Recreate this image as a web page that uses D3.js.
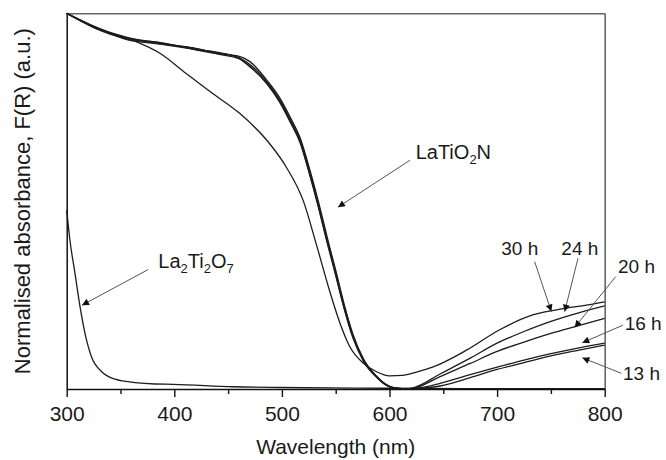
<!DOCTYPE html>
<html>
<head>
<meta charset="utf-8">
<script src="https://cdn.jsdelivr.net/npm/d3@7"></script>
<style>
  body { margin: 0; background: #fff; }
  text { font-family: "Liberation Sans", Arial, sans-serif; fill: #1a1a1a; }
</style>
</head>
<body>
<script>
// chart size
var width = 666,
    height = 460;

// data: [wavelength nm, normalised F(R)]
var la2ti2o7 = [[300,0.476],[303,0.396],[307.7,0.308],[312.4,0.219],[317,0.148],[323,0.086],[332.5,0.046],[345,0.026],[363.5,0.017],[382,0.0133],[399,0.0125],[455,0.006],[500,0.004],[600,0.002],[700,0.001],[800,0.001]];

var h30 = [[300,1],[330,0.958],[360,0.93],[387,0.893],[411,0.84],[436,0.786],[461,0.733],[486,0.662],[504,0.591],[520,0.5],[532,0.385],[545,0.255],[554,0.175],[563,0.113],[576,0.068],[588,0.046],[600,0.035],[612,0.036],[625,0.045],[640,0.058],[672,0.104],[702,0.157],[733,0.197],[764,0.215],[783,0.223],[800,0.232]];

var h24 = [[300,1],[325,0.965],[356,0.936],[387,0.921],[418,0.907],[442,0.894],[461,0.881],[472,0.86],[486,0.818],[498,0.77],[508,0.716],[517,0.663],[526,0.576],[534,0.49],[542,0.398],[550,0.31],[558,0.219],[566,0.142],[576,0.077],[588,0.033],[597,0.011],[605,0.002],[614,0],[622,0.003],[647,0.04],[675,0.082],[700,0.122],[725,0.153],[750,0.18],[775,0.202],[800,0.221]];

var h20 = [[300,1],[325,0.962],[356,0.932],[387,0.922],[418,0.904],[442,0.892],[461,0.885],[470,0.872],[486,0.822],[498,0.775],[508,0.722],[517,0.668],[526,0.583],[534,0.498],[542,0.405],[550,0.316],[558,0.224],[566,0.146],[576,0.079],[588,0.034],[597,0.012],[605,0.003],[616,0],[624,0.003],[647,0.033],[675,0.068],[700,0.1],[725,0.125],[750,0.148],[775,0.168],[800,0.188]];

var h16 = [[300,1],[325,0.966],[356,0.93],[387,0.918],[418,0.905],[442,0.895],[461,0.879],[472,0.855],[486,0.812],[498,0.763],[508,0.709],[517,0.655],[526,0.568],[534,0.483],[542,0.39],[550,0.302],[558,0.212],[566,0.136],[576,0.073],[588,0.031],[597,0.01],[605,0.002],[618,0],[626,0.002],[647,0.015],[675,0.038],[700,0.058],[725,0.077],[750,0.094],[775,0.109],[800,0.122]];

var h13 = [[300,1],[325,0.963],[356,0.934],[387,0.919],[418,0.908],[442,0.891],[461,0.878],[470,0.858],[486,0.815],[498,0.766],[508,0.712],[517,0.658],[526,0.571],[534,0.486],[542,0.394],[550,0.306],[558,0.215],[566,0.139],[576,0.075],[588,0.032],[597,0.01],[605,0.002],[620,0],[628,0.002],[647,0.008],[675,0.03],[700,0.052],[725,0.07],[750,0.088],[775,0.103],[800,0.117]];

var series = [la2ti2o7, h13, h16, h20, h24, h30];

var majorTicks = [300, 400, 500, 600, 700, 800];
var minorTicks = [350, 450, 550, 650, 750];

// annotation labels (text, text pos, arrow from, arrow to) in data units
var hourLabels = [
  {text: "30 h", at: [703.9, 0.356], from: [734.9, 0.339], to: [750.4, 0.206]},
  {text: "24 h", at: [759.7, 0.356], from: [775.2, 0.348], to: [762.8, 0.206]},
  {text: "20 h", at: [812.4, 0.308], from: [810.2, 0.299], to: [772.1, 0.164]},
  {text: "16 h", at: [818.6, 0.157], from: [817.0, 0.170], to: [779.2, 0.123]},
  {text: "13 h", at: [817.0, 0.024], from: [815.4, 0.042], to: [779.2, 0.083]}
];

var x = d3.scaleLinear().domain([300, 800]).range([66.7, 604.7]);
var y = d3.scaleLinear().domain([0, 1]).range([389, 13.3]);

var svg = d3.select("body")
    .append("svg")
    .attr("width", width)
    .attr("height", height);

// arrow head
svg.append("defs").append("marker")
    .attr("id", "head")
    .attr("viewBox", "0 0 10 10")
    .attr("refX", 10).attr("refY", 5)
    .attr("markerWidth", 10).attr("markerHeight", 7)
    .attr("markerUnits", "userSpaceOnUse")
    .attr("orient", "auto")
  .append("path")
    .attr("d", "M0,0 L10,5 L0,10 z")
    .attr("fill", "#111");

// frame top / right (grey)
svg.append("g")
    .attr("transform", "translate(0," + y(1) + ")")
    .call(d3.axisTop(x).tickValues([]).tickSizeOuter(0))
    .select(".domain").attr("stroke", "#666").attr("stroke-width", 1.6);
svg.append("g")
    .attr("transform", "translate(" + x(800) + ",0)")
    .call(d3.axisRight(y).tickValues([]).tickSizeOuter(0))
    .select(".domain").attr("stroke", "#666").attr("stroke-width", 1.6);

// curves
var line = d3.line()
    .x(function(d){ return x(d[0]); })
    .y(function(d){ return y(d[1]); })
    .curve(d3.curveMonotoneX);

svg.append("g").selectAll("path")
    .data(series)
    .enter()
    .append("path")
    .attr("d", line)
    .attr("fill", "none")
    .attr("stroke", "#1c1c1c")
    .attr("stroke-width", 1.3);

// left axis (no ticks)
svg.append("g")
    .attr("transform", "translate(" + x(300) + ",0)")
    .call(d3.axisLeft(y).tickValues([]).tickSizeOuter(0))
    .select(".domain").attr("stroke", "#111").attr("stroke-width", 1.5);

// bottom axis
var xAxis = svg.append("g")
    .attr("transform", "translate(0," + y(0) + ")")
    .call(d3.axisBottom(x).tickValues(majorTicks).tickSize(8).tickSizeOuter(0).tickPadding(9));
xAxis.select(".domain").attr("stroke", "#111").attr("stroke-width", 1.5);
xAxis.selectAll(".tick line").attr("stroke", "#111").attr("stroke-width", 1.4);
xAxis.selectAll(".tick text")
    .attr("font-size", 21)
    .attr("font-family", "Liberation Sans, Arial, sans-serif")
    .attr("fill", "#1a1a1a");

var minor = svg.append("g")
    .attr("transform", "translate(0," + y(0) + ")")
    .call(d3.axisBottom(x).tickValues(minorTicks).tickSize(5).tickFormat(""));
minor.select(".domain").remove();
minor.selectAll(".tick line").attr("stroke", "#111").attr("stroke-width", 1.4);

// axis titles
svg.append("text")
    .attr("x", x(550)).attr("y", 454)
    .attr("text-anchor", "middle")
    .attr("font-size", 21)
    .text("Wavelength (nm)");

svg.append("text")
    .attr("transform", "translate(30," + y(0.5) + ") rotate(-90)")
    .attr("text-anchor", "middle")
    .attr("font-size", 22)
    .text("Normalised absorbance, F(R) (a.u.)");

// arrows
function arrow(from, to){
  svg.append("line")
    .attr("x1", x(from[0])).attr("y1", y(from[1]))
    .attr("x2", x(to[0])).attr("y2", y(to[1]))
    .attr("stroke", "#555")
    .attr("stroke-width", 1)
    .attr("marker-end", "url(#head)");
}

// LaTiO2N label
var t1 = svg.append("text")
    .attr("x", x(624.3)).attr("y", y(0.611))
    .attr("font-size", 20);
t1.append("tspan").text("LaTiO");
t1.append("tspan").attr("font-size", 13).attr("dy", 5).text("2");
t1.append("tspan").attr("dy", -5).text("N");
arrow([619.1, 0.609], [552.1, 0.484]);

// La2Ti2O7 label
var t2 = svg.append("text")
    .attr("x", x(385.1)).attr("y", y(0.321))
    .attr("font-size", 20);
t2.append("tspan").text("La");
t2.append("tspan").attr("font-size", 13).attr("dy", 5).text("2");
t2.append("tspan").attr("dy", -5).text("Ti");
t2.append("tspan").attr("font-size", 13).attr("dy", 5).text("2");
t2.append("tspan").attr("dy", -5).text("O");
t2.append("tspan").attr("font-size", 13).attr("dy", 5).text("7");
arrow([375.8, 0.318], [314.2, 0.223]);

// hour labels
hourLabels.forEach(function(d){
  svg.append("text")
    .attr("x", x(d.at[0])).attr("y", y(d.at[1]))
    .attr("font-size", 19)
    .text(d.text);
  arrow(d.from, d.to);
});
</script>
</body>
</html>
